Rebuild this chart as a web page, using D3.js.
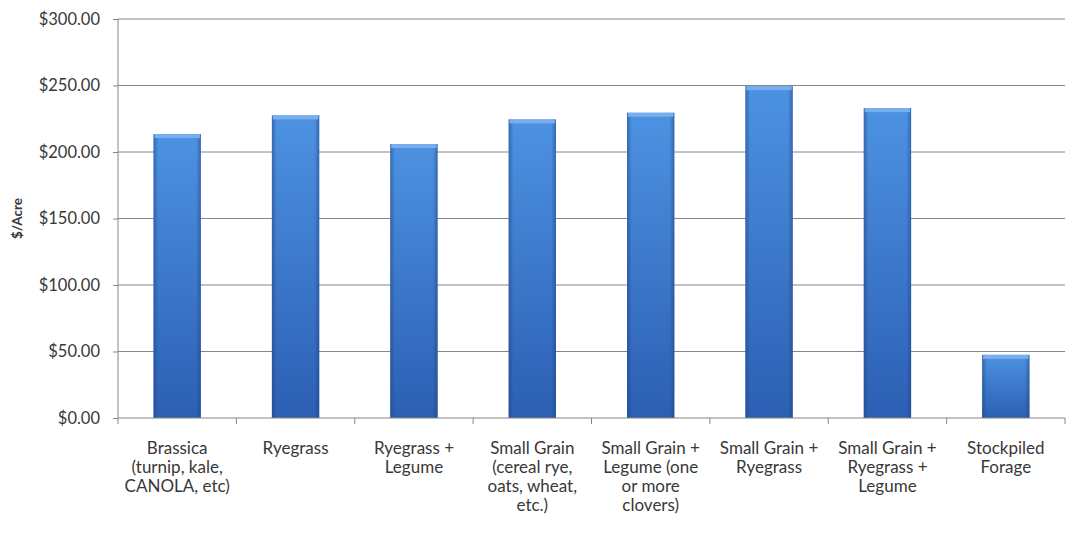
<!DOCTYPE html>
<html>
<head>
<meta charset="utf-8">
<script src="https://cdn.jsdelivr.net/npm/d3@7"></script>
<style>
  body { margin: 0; background: #fff; }
  text { font-family: Lato, "Open Sans", sans-serif; fill: #383838; }
</style>
</head>
<body>
<svg id="chart" width="1076" height="539"></svg>
<script>
// data
var categories = [
  "Brassica|(turnip, kale,|CANOLA, etc)",
  "Ryegrass",
  "Ryegrass +|Legume",
  "Small Grain|(cereal rye,|oats, wheat,|etc.)",
  "Small Grain +|Legume (one|or more|clovers)",
  "Small Grain +|Ryegrass",
  "Small Grain +|Ryegrass +|Legume",
  "Stockpiled|Forage"
];
var costPerAcre = [213.5, 227.5, 206, 224.5, 229.5, 249.5, 233, 47.5];
var yTicks = [0, 50, 100, 150, 200, 250, 300];

var svg = d3.select("#chart");
var margin = {top: 19, right: 11, bottom: 121, left: 118};
var width = 1076 - margin.left - margin.right;
var height = 539 - margin.top - margin.bottom;

var g = svg.append("g")
  .attr("transform", "translate(" + margin.left + "," + margin.top + ")");

// scales
var x = d3.scaleBand()
  .domain(categories)
  .range([0, width])
  .paddingInner(0.6)
  .paddingOuter(0.3);

var y = d3.scaleLinear()
  .domain([0, 300])
  .range([height, 0]);

// gradient for bars
var defs = svg.append("defs");
var grad = defs.append("linearGradient")
  .attr("id", "barGrad")
  .attr("x1", 0).attr("y1", 0).attr("x2", 0).attr("y2", 1);
grad.append("stop").attr("offset", "0%").attr("stop-color", "#4d92e2");
grad.append("stop").attr("offset", "100%").attr("stop-color", "#2c5fb3");

var side = defs.append("linearGradient")
  .attr("id", "sideGrad")
  .attr("x1", 0).attr("y1", 0).attr("x2", 1).attr("y2", 0);
side.append("stop").attr("offset", "0%").attr("stop-color", "#1f3f7a").attr("stop-opacity", 0.5);
side.append("stop").attr("offset", "10%").attr("stop-color", "#1f3f7a").attr("stop-opacity", 0);
side.append("stop").attr("offset", "90%").attr("stop-color", "#1f3f7a").attr("stop-opacity", 0);
side.append("stop").attr("offset", "100%").attr("stop-color", "#1f3f7a").attr("stop-opacity", 0.5);

// gridlines
g.append("g")
  .attr("class", "grid")
  .selectAll("line")
  .data(yTicks.filter(d => d > 0))
  .enter().append("line")
  .attr("x1", 0)
  .attr("x2", width)
  .attr("y1", d => y(d))
  .attr("y2", d => y(d))
  .attr("stroke", "#868686")
  .attr("stroke-width", 1);

// y axis
var yAxis = d3.axisLeft(y)
  .tickValues(yTicks)
  .tickSize(5)
  .tickPadding(13)
  .tickFormat(d => "$" + d3.format(".2f")(d));
var yG = g.append("g").call(yAxis);
yG.select(".domain").attr("stroke", "#868686").attr("d", "M0," + height + "V0");
yG.selectAll(".tick line").attr("stroke", "#868686");
yG.selectAll(".tick text").attr("font-size", "16.5px").attr("fill", "#383838");

// bars
var bw = x.bandwidth();
var bars = g.append("g").selectAll("g.bar")
  .data(costPerAcre)
  .enter().append("g")
  .attr("class", "bar");

bars.append("rect")
  .attr("x", (d, i) => x(categories[i]))
  .attr("y", d => y(d))
  .attr("width", bw)
  .attr("height", d => height - y(d))
  .attr("fill", "url(#barGrad)");

bars.append("rect")
  .attr("x", (d, i) => x(categories[i]))
  .attr("y", d => y(d))
  .attr("width", bw)
  .attr("height", d => height - y(d))
  .attr("fill", "url(#sideGrad)");

// top highlight
bars.append("rect")
  .attr("x", (d, i) => x(categories[i]) + 1)
  .attr("y", d => y(d))
  .attr("width", bw - 2)
  .attr("height", 4)
  .attr("fill", "#78aeee");

// x axis
var xAxisG = g.append("g")
  .attr("transform", "translate(0," + height + ")");
xAxisG.append("line")
  .attr("x1", 0).attr("x2", width)
  .attr("y1", 0).attr("y2", 0)
  .attr("stroke", "#868686");
var step = x.step();
xAxisG.selectAll("line.tick")
  .data(d3.range(categories.length + 1))
  .enter().append("line")
  .attr("class", "tick")
  .attr("x1", i => i * step)
  .attr("x2", i => i * step)
  .attr("y1", 0).attr("y2", 6)
  .attr("stroke", "#868686");

var labels = xAxisG.selectAll("text.cat")
  .data(categories)
  .enter().append("text")
  .attr("class", "cat")
  .attr("text-anchor", "middle")
  .attr("font-size", "17px")
  .attr("transform", d => "translate(" + (x(d) + bw / 2) + ",36)");
labels.selectAll("tspan")
  .data(d => d.split("|"))
  .enter().append("tspan")
  .attr("x", 0)
  .attr("dy", (d, i) => i === 0 ? 0 : 19)
  .text(d => d);

// y label
svg.append("text")
  .attr("transform", "translate(22," + (margin.top + height / 2) + ") rotate(-90)")
  .attr("text-anchor", "middle")
  .attr("font-size", "13.5px")
  .attr("font-weight", "bold")
  .text("$/Acre");
</script>
</body>
</html>
